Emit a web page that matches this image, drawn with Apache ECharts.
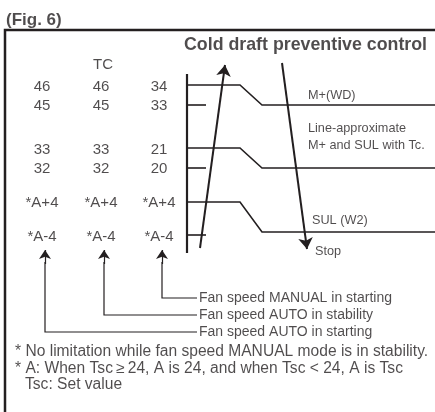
<!DOCTYPE html>
<html>
<head>
<meta charset="utf-8">
<script src="https://cdn.jsdelivr.net/npm/echarts@6/dist/echarts.min.js"></script>
<style>
html,body{margin:0;padding:0;background:#fff;}
#c{width:435px;height:412px;}
</style>
</head>
<body>
<div id="c"></div>
<script>
// ---- data ----
const figLabel = '(Fig. 6)';
const title = 'Cold draft preventive control';
const headerTC = 'TC';
const colAutoStarting = ['46', '45', '33', '32', '*A+4', '*A-4'];
const colAutoStability = ['46', '45', '33', '32', '*A+4', '*A-4'];
const colManualStarting = ['34', '33', '21', '20', '*A+4', '*A-4'];
const curveLabels = ['M+(WD)', 'Line-approximate', 'M+ and SUL with Tc.', 'SUL (W2)', 'Stop'];
const modeLabels = ['Fan speed MANUAL in starting', 'Fan speed AUTO in stability', 'Fan speed AUTO in starting'];
const notes = [
  '* No limitation while fan speed MANUAL mode is in stability.',
  '* A: When Tsc\u2009\u2265\u200924, A is 24, and when Tsc < 24, A is Tsc',
  'Tsc: Set value'
];

// ---- layout (drawing space coordinates) ----
const W = 435, H = 412;
const colX = [42, 101, 159];
const rowY = [87, 106, 150, 169, 203, 237];
const axisX = 187, axisTop = 74, axisBottom = 253;
const stepUpperY = [85, 148, 202];
const stepLowerY = [105, 168, 232];
const tickY = [105, 168, 235];
const kneeX1 = 240, kneeX2 = 262, tickEnd = 206;
const legendY = [298, 315, 332];
const arrowBase = 250, legendLineEnd = 197;
const ink = '#231f20';
const font = 'Liberation Sans, Arial, Helvetica, sans-serif';

const chart = echarts.init(document.getElementById('c'), null, {renderer: 'canvas'});

// step profile polylines
const stepLines = stepUpperY.map((uy, i) => ({
  coords: [[axisX, uy], [kneeX1, uy], [kneeX2, stepLowerY[i]], [W, stepLowerY[i]]]
}));
const tickLines = tickY.map(ty => ({coords: [[axisX, ty], [tickEnd, ty]]}));

// mode leader lines: columns manual(2), autoStab(1), autoStart(0)
const leaderCols = [2, 1, 0];
const leaders = leaderCols.map((ci, i) => ({
  coords: [[legendLineEnd, legendY[i]], [colX[ci] + 3, legendY[i]], [colX[ci] + 3, arrowBase + 12]]
}));
const leaderArrows = leaderCols.map((ci, i) => ({
  coords: [[colX[ci] + 3, arrowBase + 14], [colX[ci] + 3, arrowBase]]
}));

const tableTexts = [];
[colAutoStarting, colAutoStability, colManualStarting].forEach((col, ci) => {
  col.forEach((v, ri) => tableTexts.push({text: v, x: colX[ci], y: rowY[ri]}));
});
tableTexts.push({text: headerTC, x: colX[1] + 2, y: 65});

const curveTexts = [
  {text: curveLabels[0], x: 308, y: 95},
  {text: curveLabels[1], x: 308, y: 128},
  {text: curveLabels[2], x: 308, y: 145},
  {text: curveLabels[3], x: 312, y: 220},
  {text: curveLabels[4], x: 315, y: 251}
];
const modeTexts = modeLabels.map((t, i) => ({text: t, x: 199, y: legendY[i]}));
const noteTexts = [
  {text: notes[0], x: 15, y: 352},
  {text: notes[1], x: 15, y: 369},
  {text: notes[2], x: 25, y: 385}
];

function textSeries(items, align, fontSize, fontWeight) {
  return {
    type: 'scatter',
    symbolSize: 0,
    silent: true,
    z: 10,
    data: items.map(t => ({name: t.text, value: [t.x, t.y]})),
    label: {
      show: true,
      formatter: '{b}',
      position: align === 'center' ? 'inside' : 'right',
      distance: 0,
      align: align === 'center' ? 'center' : 'left',
      verticalAlign: 'middle',
      color: ink,
      fontFamily: font,
      fontSize: fontSize,
      fontWeight: fontWeight || 'normal'
    }
  };
}

function lineSeries(data, width, withArrow, size) {
  const s = {
    type: 'lines', coordinateSystem: 'cartesian2d', polyline: !withArrow, silent: true,
    lineStyle: {color: ink, width: width, opacity: 1},
    data: data
  };
  if (withArrow) {
    s.symbol = ['none', 'arrow'];
    s.symbolSize = size;
  }
  return s;
}

const option = {
  animation: false,
  backgroundColor: '#fff',
  grid: {left: 0, right: 0, top: 0, bottom: 0},
  xAxis: {type: 'value', min: 0, max: W, show: false},
  yAxis: {type: 'value', min: 0, max: H, inverse: true, show: false},
  series: [
    lineSeries([{coords: [[5, H], [5, 30], [W, 30]]}], 2.5, false),
    lineSeries([{coords: [[axisX, axisTop], [axisX, axisBottom]]}], 2.2, false),
    lineSeries(stepLines.concat(tickLines), 1.6, false),
    lineSeries([
      {coords: [[200, 248], [225, 65]]},
      {coords: [[282, 63], [307, 249]]}
    ], 2, true, [7, 11]),
    lineSeries(leaders, 1.2, false),
    lineSeries(leaderArrows, 1.2, true, [6, 9]),
    textSeries(tableTexts, 'center', 15),
    textSeries(curveTexts, 'left', 12.7),
    textSeries(modeTexts, 'left', 14),
    textSeries(noteTexts, 'left', 15.6),
    textSeries([{text: figLabel, x: 6, y: 20}], 'left', 17, 'bold'),
    textSeries([{text: title, x: 184, y: 45}], 'left', 17.8, 'bold')
  ]
};
chart.setOption(option);
</script>
</body>
</html>
